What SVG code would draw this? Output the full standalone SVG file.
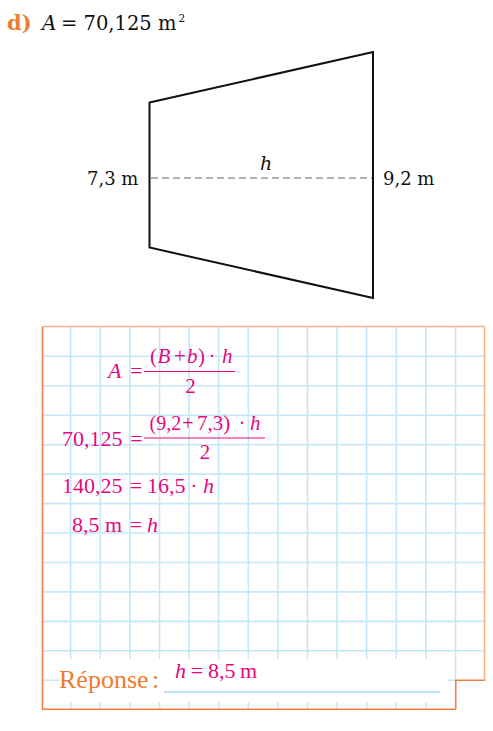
<svg xmlns="http://www.w3.org/2000/svg" width="493" height="731" viewBox="0 0 493 731">
<style>
.t{font-family:"DejaVu Serif","Liberation Serif",serif;fill:#111}
.p{font-family:"Liberation Serif","DejaVu Serif",serif;fill:#e5087e}
.m{text-anchor:middle}
.i{font-style:italic}
.n{font-size:21px}
.b{font-size:22px}
.g{stroke:#c5e8f8;stroke-width:1.6;fill:none}
.fr{stroke:#e5087e;stroke-width:1}
</style>
<rect width="493" height="731" fill="#fff"/>
<g id="title">
<text x="7" y="30" class="t" font-size="21" font-weight="bold" style="fill:#ef7b2c">d)</text>
<text x="42" y="30" class="t i" font-size="20">A</text>
<text x="61" y="30" class="t" font-size="19.5">= 70,125 m</text>
<text x="178.5" y="22" class="t" font-size="10.5">2</text>
</g>
<g id="trapezoid">
<polygon points="149.5,102.5 373,52 373,298 149.5,247.5" fill="none" stroke="#111" stroke-width="2"/>
<line x1="151" y1="178" x2="372" y2="178" stroke="#666" stroke-width="1.2" stroke-dasharray="7,4"/>
<text x="260" y="170" class="t i" font-size="19">h</text>
<text x="87" y="185" class="t" font-size="18">7,3 m</text>
<text x="383" y="185" class="t" font-size="18">9,2 m</text>
</g>
<g id="grid">
<g class="g">
<path d="M70.7 327V709M100.3 327V709M129.9 327V709M159.5 327V709M189.1 327V709M218.7 327V709M248.3 327V709M277.9 327V709M307.5 327V709M337.1 327V709M366.7 327V709M396.3 327V709M425.9 327V709M455.5 327V680"/>
<path d="M42 356.3H484M42 385.8H484M42 415.2H484M42 444.7H484M42 474.1H484M42 503.6H484M42 533H484M42 562.5H484M42 591.9H484M42 621.4H484M42 650.8H484M42 680.3H455"/>
</g>
<rect x="60" y="659" width="388" height="43" fill="#fff"/>
<line x1="164" y1="692" x2="440" y2="692" stroke="#bfe3f6" stroke-width="2"/>
<path d="M484.5 326.5V680.3H455.7V709.3" fill="none" stroke="#f6b38a" stroke-width="1.6"/>
<path d="M42.5 326.5H484.5" fill="none" stroke="#f6b38a" stroke-width="1.6"/>
<path d="M42.5 326.5V709.3H455.7" fill="none" stroke="#ef7d3c" stroke-width="1.5"/>
<path d="M484.5 680.3H455.7V709.3" fill="none" stroke="#ef7d3c" stroke-width="1.2"/>
</g>
<g id="formula1">
<text x="108" y="378" class="p i b">A</text>
<text x="136.5" y="378" class="p m b">=</text>
<text x="150" y="363" class="p n">(</text>
<text x="157.5" y="363" class="p i n">B</text>
<text x="180" y="363" class="p m n">+</text>
<text x="187" y="363" class="p i n">b</text>
<text x="198" y="363" class="p n">)</text>
<text x="212" y="363" class="p m n">·</text>
<text x="222" y="363" class="p i n">h</text>
<line x1="144" y1="371.5" x2="235" y2="371.5" class="fr"/>
<text x="190.5" y="393" class="p m n">2</text>
</g>
<g id="formula2">
<text x="62" y="446" class="p b">70,125</text>
<text x="136.5" y="446" class="p m b">=</text>
<text x="149.5" y="430" class="p" font-size="20">(9,2</text>
<text x="188" y="430" class="p m" font-size="20">+</text>
<text x="197" y="430" class="p n">7,3)</text>
<text x="242" y="430" class="p m n">·</text>
<text x="250" y="430" class="p i n">h</text>
<line x1="144" y1="438" x2="265" y2="438" class="fr"/>
<text x="205" y="459" class="p m n">2</text>
</g>
<g id="formula3">
<text x="62" y="493" class="p b">140,25</text>
<text x="136" y="493" class="p m b">=</text>
<text x="147" y="493" class="p b">16,5</text>
<text x="194" y="493" class="p m b">·</text>
<text x="203" y="493" class="p i b">h</text>
</g>
<g id="formula4">
<text x="72" y="532" class="p b">8,5</text>
<text x="105" y="532" class="p b">m</text>
<text x="136" y="532" class="p m b">=</text>
<text x="147" y="532" class="p i b">h</text>
</g>
<g id="answer">
<text x="59" y="688" class="p" font-size="26" style="fill:#ef7b2c">Réponse</text>
<text x="152" y="688" class="p" font-size="26" style="fill:#ef7b2c">:</text>
<text x="175" y="678" class="p i b">h</text>
<text x="197" y="678" class="p m b">=</text>
<text x="208" y="678" class="p b">8,5</text>
<text x="240" y="678" class="p b">m</text>
</g>
</svg>
